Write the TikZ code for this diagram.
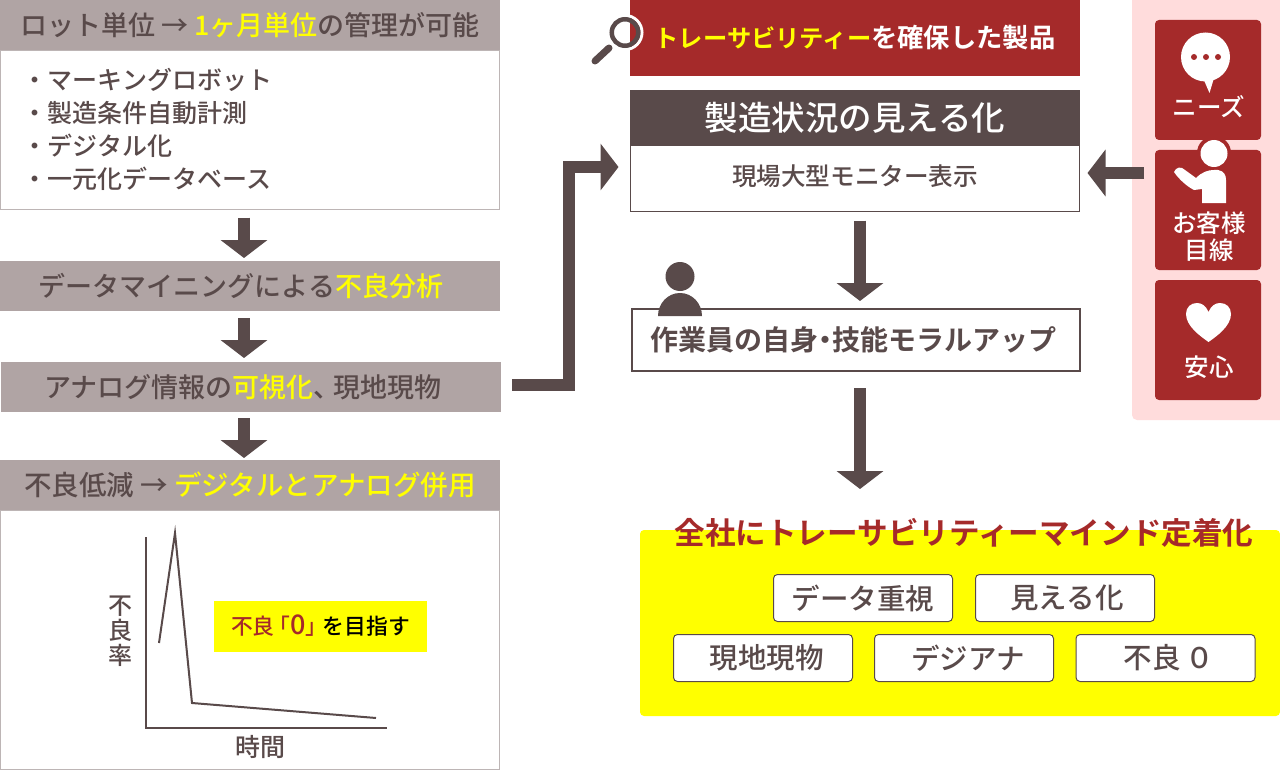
\documentclass[tikz,border=0pt]{standalone}
\usepackage{fontspec}
\setmainfont{Noto Sans CJK JP Medium}
\newfontfamily\boldjp{Noto Sans CJK JP Bold}
\usetikzlibrary{arrows.meta,calc}
\definecolor{brownd}{HTML}{594A4A}
\definecolor{taupe}{HTML}{B0A4A4}
\definecolor{crimson}{HTML}{A52A2A}
\definecolor{pinkbg}{HTML}{FFDCDC}
\definecolor{yel}{HTML}{FFFF00}
\definecolor{edge}{HTML}{BDB5B5}
\newcommand{\yl}[1]{\textcolor{yel}{#1}}
\tikzset{
  x=1pt,y=-1pt,
  every node/.style={text=brownd,inner sep=0pt,outer sep=0pt},
  bar/.style={fill=taupe,minimum width=500pt,minimum height=50pt,anchor=center,font=\fontsize{27}{27}\selectfont},
  bigarrow/.style={draw=brownd,line width=12pt,-{Triangle[width=46pt,length=18pt]}},
  chip/.style={draw=brownd,line width=1pt,fill=white,rounded corners=4pt,minimum width=179pt,minimum height=47pt,font=\fontsize{28.5}{28.5}\selectfont},
  redcard/.style={fill=crimson,rounded corners=4pt,minimum width=106pt},
  cardtext/.style={text=white,font=\fontsize{24.5}{27}\selectfont,align=center},
}
\begin{document}
\begin{tikzpicture}
\useasboundingbox (0,0) rectangle (1280,773);
\fill[white] (0,0) rectangle (1280,773);
% left column
\node[draw=edge,line width=1pt,fill=white,minimum width=499pt,minimum height=159pt] (list) at (250,130) {};
\node[bar] (lot) at (250,25) {ロット単位 → \yl{1ヶ月単位}の管理が可能};
\node[anchor=west,font=\fontsize{25}{33}\selectfont,align=left] (items) at (23,129) {・マーキングロボット\\・製造条件自動計測\\・デジタル化\\・一元化データベース};
\node[bar] (mining) at (250,286) {データマイニングによる\yl{不良分析}\hspace*{18pt}};
\node[bar] (analog) at (251,387) {アナログ情報の\yl{可視化}、\kern-7pt 現地現物\hspace*{16pt}};
\node[draw=edge,line width=1pt,fill=white,minimum width=499pt,minimum height=259pt] (chart) at (250,640) {};
\node[bar,font=\fontsize{27.5}{27.5}\selectfont] (reduce) at (250,485) {不良低減 → \yl{デジタルとアナログ併用}};
\draw[bigarrow] ([xshift=-6pt,yshift=-8pt]list.south) -- ([xshift=-6pt,yshift=3pt]mining.north);
\draw[bigarrow] ([xshift=-6pt,yshift=-7pt]mining.south) -- ([xshift=-6pt,yshift=4pt]analog.north -| mining.north);
\draw[bigarrow] ([xshift=-6pt,yshift=-6pt]analog.south -| mining.north) -- ([xshift=-6pt,yshift=2pt]reduce.north);
% chart
\draw[brownd,line width=2pt] (146,537) -- (146,728) -- (387,728);
\draw[brownd,line width=2pt,line join=miter] (159,643) -- (175,533) -- (192,703) -- (376,718);
\node[font=\fontsize{24}{25}\selectfont,align=center] (ylab) at (120.5,631) {不\\良\\率};
\node[font=\fontsize{25}{25}\selectfont] (xlab) at (260,747) {時間};
\node[fill=yel,minimum width=213pt,minimum height=51pt,font=\fontsize{21.8}{21.8}\selectfont,text=black] (goal) at (320.5,626) {\textcolor{crimson}{不良\kern-6pt「{\fontsize{27}{27}\selectfont 0}」}\kern-5pt を目指す};
% centre column
\node[fill=crimson,minimum width=450pt,minimum height=76pt,text=white,font=\boldjp\fontsize{26.3}{26.3}\selectfont] (trace) at (855,38) {\yl{\fontsize{24.3}{24.3}\selectfont トレーサビリティー}を確保した製品};
\draw[white,line width=3pt] (625,32.5) circle (17);
\draw[brownd,line width=4.5pt] (625,32.5) circle (13.25);
\draw[brownd,line width=7pt,line cap=round] (595,61) -- (609,48);
\node[draw=brownd,line width=1pt,fill=white,minimum width=449pt,minimum height=121pt] (monbox) at (855,151) {};
\node[fill=brownd,minimum width=450pt,minimum height=56pt,text=white,font=\fontsize{33.5}{33.5}\selectfont] (vis) at (855,118) {製造状況の見える化};
\node[font=\fontsize{24.6}{24.6}\selectfont] (mon) at (855,176) {現場大型モニター表示};
\node[draw=brownd,line width=1.5pt,fill=white,minimum width=448pt,minimum height=62pt,font=\boldjp\fontsize{28}{28}\selectfont] (staff) at (856,340) {作業員の自身\kern-7pt・\kern-7pt 技能モラルアップ\hspace*{6pt}};
\fill[brownd] (680,276.5) circle (14.5);
\fill[brownd] (658,316) arc[start angle=180,end angle=360,x radius=22,y radius=23] -- cycle;
\draw[bigarrow] ([xshift=5pt,yshift=-9pt]monbox.south) -- ([xshift=4pt,yshift=8pt]staff.north);
% bottom
\node[fill=yel,rounded corners=4pt,minimum width=640pt,minimum height=186pt] (mind) at (960,623) {};
\node[text=crimson,font=\boldjp\fontsize{30.6}{30.6}\selectfont] (mindtitle) at (964,533) {全社にトレーサビリティーマインド定着化};
\node[chip] (c1) at (863,598) {データ重視};
\node[chip] (c2) at (1065,598) {\hspace*{4pt}見える化};
\node[chip] (c3) at (763,658) {\hspace*{7pt}現地現物};
\node[chip] (c4) at (964,658) {\hspace*{8pt}デジアナ};
\node[chip] (c5) at (1165.5,658) {\hspace*{7pt}不良\kern5pt ０};
\coordinate (mindin) at (860,489);
\draw[bigarrow] ([xshift=4pt,yshift=-17pt]staff.south) -- (mindin);
% right panel
\fill[pinkbg,rounded corners=5pt] (1132,-8) rectangle (1290,420);
\node[redcard,minimum height=120pt] (needs) at (1208,80) {};
\node[redcard,minimum height=120pt] (eye) at (1208,210) {};
\node[redcard,minimum height=120pt] (safe) at (1208,340) {};
\node[cardtext] (t1) at (1209,107) {ニーズ};
\node[cardtext] (t2) at (1209,237) {お客様\\目線};
\node[cardtext] (t3) at (1209,367) {安心};
% bubble
\fill[white] (1205.5,57) circle (24.5);
\fill[white] (1203,78) -- (1214,78) -- (1209.5,93) -- cycle;
\foreach \dx in {-12,0,12} \fill[crimson] (1206+\dx,57) circle (3);
% person
\fill[crimson] (1214,153) circle (17);
\fill[white] (1214,153.5) circle (13.5);
\path[fill=white] (1174,172) .. controls (1176,167) and (1181,166) .. (1185,170) -- (1196,178) .. controls (1202,172) and (1208,170) .. (1214,170) -- (1218,170) .. controls (1224,171) and (1226,175) .. (1226,180) -- (1226,203) -- (1202,203) -- (1202,189) -- (1194,190) .. controls (1186,186) and (1178,178) .. (1174,172) -- cycle;
% heart
\path[fill=white] (1208.5,342) .. controls (1200,336) and (1186,326) .. (1186,314) .. controls (1186,307) and (1191,303) .. (1197,303) .. controls (1202,303) and (1206,306) .. (1208.5,312) .. controls (1211,306) and (1215,303) .. (1220,303) .. controls (1226,303) and (1231,307) .. (1231,314) .. controls (1231,326) and (1217,336) .. (1208.5,342) -- cycle;
% side connectors
\coordinate (armstart) at (1144,173);
\draw[bigarrow] (armstart) -- ([xshift=8pt]monbox.east |- armstart);
\coordinate (elbow) at (568.5,167);
\draw[bigarrow,line join=miter] ([xshift=11pt,yshift=2.5pt]analog.east) -| (elbow) -- ([xshift=-12pt]monbox.west |- elbow);
\end{tikzpicture}
\end{document}
